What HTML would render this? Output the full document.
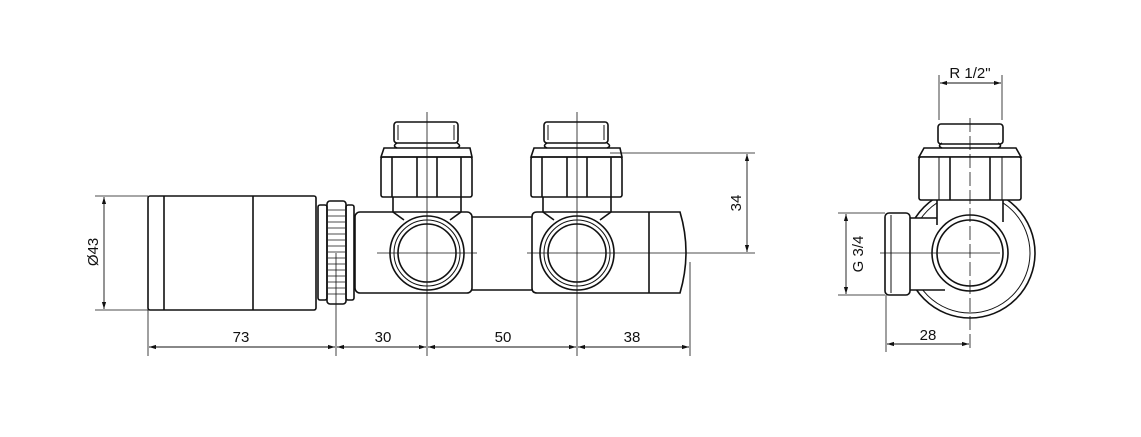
<!DOCTYPE html>
<html><head><meta charset="utf-8"><style>html,body{margin:0;padding:0;background:#fff}svg{display:block}text{font-family:"Liberation Sans",sans-serif;font-size:15px;fill:#111}</style></head><body>
<svg width="1141" height="437" viewBox="0 0 1141 437" xmlns="http://www.w3.org/2000/svg">
<defs><marker id="a" viewBox="0 0 10 10" refX="10" refY="5" markerWidth="8" markerHeight="8" orient="auto-start-reverse"><path d="M0,2 L10,5 L0,8z" fill="#111"/></marker></defs>
<g fill="none" stroke="#111" stroke-width="1.6">
<rect x="148" y="196" width="168" height="114" rx="2"/>
<line x1="164" y1="196" x2="164" y2="310"/>
<line x1="253" y1="196" x2="253" y2="310"/>
<rect x="318" y="205" width="9" height="95" rx="2"/>
<rect x="327" y="201" width="19" height="103" rx="3"/>
<rect x="346" y="205" width="8" height="95" rx="2"/>
</g>
<g stroke="#111" stroke-width="0.8">
<line x1="328" y1="210" x2="345" y2="210"/><line x1="328" y1="216" x2="345" y2="216"/><line x1="328" y1="222" x2="345" y2="222"/><line x1="328" y1="228" x2="345" y2="228"/><line x1="328" y1="234" x2="345" y2="234"/><line x1="328" y1="240" x2="345" y2="240"/><line x1="328" y1="246" x2="345" y2="246"/><line x1="328" y1="252" x2="345" y2="252"/><line x1="328" y1="258" x2="345" y2="258"/><line x1="328" y1="264" x2="345" y2="264"/><line x1="328" y1="270" x2="345" y2="270"/><line x1="328" y1="276" x2="345" y2="276"/><line x1="328" y1="282" x2="345" y2="282"/><line x1="328" y1="288" x2="345" y2="288"/><line x1="328" y1="294" x2="345" y2="294"/>
</g>
<g fill="none" stroke="#111" stroke-width="1.6">
<rect x="355" y="212" width="117" height="81" rx="5"/>
<line x1="472" y1="217" x2="532" y2="217"/><line x1="472" y1="290" x2="532" y2="290"/>
<path d="M537,212 H680 Q692,252 680,293 H537 Q532,293 532,288 V217 Q532,212 537,212z"/>
<line x1="649" y1="212" x2="649" y2="293"/>
<circle cx="427" cy="253" r="37"/><circle cx="427" cy="253" r="33" stroke-width="1"/><circle cx="427" cy="253" r="29"/>
<circle cx="577" cy="253" r="37"/><circle cx="577" cy="253" r="33" stroke-width="1"/><circle cx="577" cy="253" r="29"/>
<g id="f1">
<path d="M393,197 V212 L404,220 M461,197 V212 L450,220"/>
<path d="M384,148 H470 L472,157 H381z"/>
<rect x="381" y="157" width="91" height="40" rx="2"/>
<line x1="392" y1="157" x2="392" y2="197"/><line x1="417" y1="157" x2="417" y2="197"/><line x1="437" y1="157" x2="437" y2="197"/><line x1="461" y1="157" x2="461" y2="197"/>
<path d="M397,143 Q392,146 397,148 M457,143 Q462,146 457,148"/>
<rect x="394" y="122" width="64" height="21" rx="3"/>
<line x1="398" y1="125" x2="398" y2="140" stroke-width="1"/><line x1="454" y1="125" x2="454" y2="140" stroke-width="1"/>
</g>
<use href="#f1" x="150"/>
<!-- side view -->
<circle cx="970" cy="253" r="65"/><circle cx="970" cy="253" r="60" stroke-width="1"/>
<rect x="908" y="218" width="38" height="72" fill="#fff" stroke="none"/>
<path d="M910,218 H945 M910,290 H945" />
<rect x="885" y="213" width="25" height="82" rx="4" fill="#fff"/>
<line x1="891" y1="215" x2="891" y2="293" stroke-width="1"/>
<rect x="937" y="198" width="66" height="25" fill="#fff" stroke="none"/>
<path d="M937,200 V225 M1003,200 V222" />
<circle cx="970" cy="253" r="38" fill="#fff"/><circle cx="970" cy="253" r="33"/>
<path d="M924,148 H1016 L1021,157 H919z"/>
<rect x="919" y="157" width="102" height="43" rx="2" fill="#fff"/>
<line x1="950" y1="157" x2="950" y2="200"/><line x1="990" y1="157" x2="990" y2="200"/>
<line x1="939" y1="157" x2="939" y2="200" stroke-width="1"/><line x1="1002" y1="157" x2="1002" y2="200" stroke-width="1"/>
<path d="M942,143 Q937,146 942,148 M998,143 Q1003,146 998,148"/>
<rect x="938" y="124" width="65" height="20" rx="3"/>
</g>
<g stroke="#111" stroke-width="0.8" fill="none">
<line x1="427" y1="112" x2="427" y2="356"/><line x1="577" y1="112" x2="577" y2="356"/>
<line x1="377" y1="253" x2="477" y2="253"/><line x1="527" y1="253" x2="755" y2="253"/>
<line x1="970" y1="118" x2="970" y2="352" stroke-dasharray="14,4"/>
<line x1="880" y1="253" x2="1000" y2="253"/>
<line x1="336" y1="253" x2="336" y2="356"/>
<line x1="148" y1="310" x2="148" y2="356"/><line x1="690" y1="262" x2="690" y2="356"/>
<line x1="95" y1="196" x2="148" y2="196"/><line x1="95" y1="310" x2="148" y2="310"/>
<line x1="610" y1="153" x2="755" y2="153"/>
<line x1="939" y1="75" x2="939" y2="120"/><line x1="1002" y1="75" x2="1002" y2="120"/>
<line x1="838" y1="213" x2="885" y2="213"/><line x1="838" y1="295" x2="885" y2="295"/>
<line x1="886" y1="295" x2="886" y2="352"/>
</g>
<g stroke="#111" stroke-width="0.9" fill="none" marker-start="url(#a)" marker-end="url(#a)">
<line x1="149" y1="347" x2="335" y2="347"/><line x1="337" y1="347" x2="426" y2="347"/>
<line x1="428" y1="347" x2="576" y2="347"/><line x1="578" y1="347" x2="689" y2="347"/>
<line x1="104" y1="197" x2="104" y2="309"/><line x1="747" y1="154" x2="747" y2="252"/>
<line x1="940" y1="83" x2="1001" y2="83"/><line x1="846" y1="214" x2="846" y2="294"/>
<line x1="887" y1="344" x2="969" y2="344"/>
</g>
<text x="241" y="342" text-anchor="middle">73</text>
<text x="383" y="342" text-anchor="middle">30</text>
<text x="503" y="342" text-anchor="middle">50</text>
<text x="632" y="342" text-anchor="middle">38</text>
<text x="928" y="340" text-anchor="middle">28</text>
<text x="970" y="78" text-anchor="middle">R 1/2"</text>
<text transform="translate(98,252) rotate(-90)" text-anchor="middle">Ø43</text>
<text transform="translate(741,203) rotate(-90)" text-anchor="middle">34</text>
<text transform="translate(863,254) rotate(-90)" text-anchor="middle">G 3/4</text>
</svg>
</body></html>
